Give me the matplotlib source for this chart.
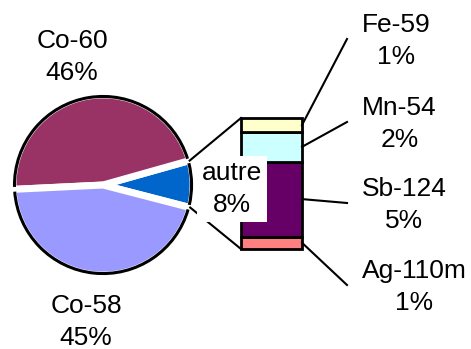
import matplotlib
matplotlib.use('Agg')
import matplotlib.pyplot as plt
from matplotlib.patches import Arc
import numpy as np

plt.rcParams['font.family'] = ['Liberation Sans', 'DejaVu Sans']

# main slices (percent of total activity)
main_names = ['Co-60', 'Co-58']
main_pct = [46.4, 45.2]
main_colors = ['#993366', '#9999FF']

# breakdown of the "autre" slice, bottom to top in the bar
other_names = ['Ag-110m', 'Sb-124', 'Mn-54', 'Fe-59']
other_pct = [0.8, 4.8, 1.9, 0.9]
other_colors = ['#FF8080', '#660066', '#CCFFFF', '#FFFFCC']
autre_color = '#0066CC'

H = 349
FS = 19

fig = plt.figure(figsize=(4.71, 3.49), dpi=100)
ax = fig.add_axes([0, 0, 1, 1])

autre = sum(other_pct)
cx, cy, R = 103, H - 185, 90
wedges, _ = ax.pie([autre] + main_pct, explode=[0.06, 0.05, 0.05],
                   colors=[autre_color] + main_colors, startangle=-14.5,
                   center=(cx, cy), radius=R,
                   wedgeprops=dict(edgecolor='white', linewidth=5))

# black outline only on the outer arc of each slice
for w in wedges:
    d = 2 * (w.r - 1.5)
    ax.add_patch(Arc(w.center, d, d, theta1=w.theta1 + 1.5, theta2=w.theta2 - 1.5,
                     color='black', lw=2.2, zorder=3))

# stacked bar for "autre"
bar_x, bar_w, bar_bottom = 241, 61, H - 249
scale = 131 / autre
bottom = bar_bottom
mids = []
for val, col in zip(other_pct, other_colors):
    ax.bar(bar_x, val * scale, width=bar_w, bottom=bottom, align='edge',
           color=col, edgecolor='black', linewidth=2, zorder=2)
    mids.append(bottom + val * scale / 2)
    bottom += val * scale
bar_top = bottom

# connector lines pie -> bar
w0 = wedges[0]
for th, by in [(w0.theta2, bar_top), (w0.theta1, bar_bottom)]:
    px = w0.center[0] + w0.r * np.cos(np.radians(th))
    py = w0.center[1] + w0.r * np.sin(np.radians(th))
    ax.plot([px, bar_x], [py, by], color='black', lw=1.5, zorder=1)

ax.text(232, H - 189, f'autre\n{autre:.0f}%', fontsize=FS, ha='center', va='center',
        linespacing=1.4, zorder=5,
        bbox=dict(boxstyle='square,pad=0.2', facecolor='white', edgecolor='none'))

# labels of the main slices
ax.text(72, H - 57, f'{main_names[0]}\n{main_pct[0]:.0f}%', fontsize=FS,
        ha='center', va='center', linespacing=1.45)
ax.text(86, H - 322, f'{main_names[1]}\n{main_pct[1]:.0f}%', fontsize=FS,
        ha='center', va='center', linespacing=1.45)

# labels and leader lines of the bar segments
label_y = [H - 287, H - 205, H - 124, H - 41]
for name, val, m, ly in zip(other_names, other_pct, mids, label_y):
    ax.plot([bar_x + bar_w, 347], [m, ly + 2], color='black', lw=1.5)
    ax.text(362, ly, f'{name}\n{val:.0f}%', fontsize=FS, ha='left', va='center',
            multialignment='center', linespacing=1.45)

ax.set_xlim(0, 471)
ax.set_ylim(0, H)
ax.set_aspect('equal')
ax.axis('off')

fig.savefig('out.png', dpi=100)
